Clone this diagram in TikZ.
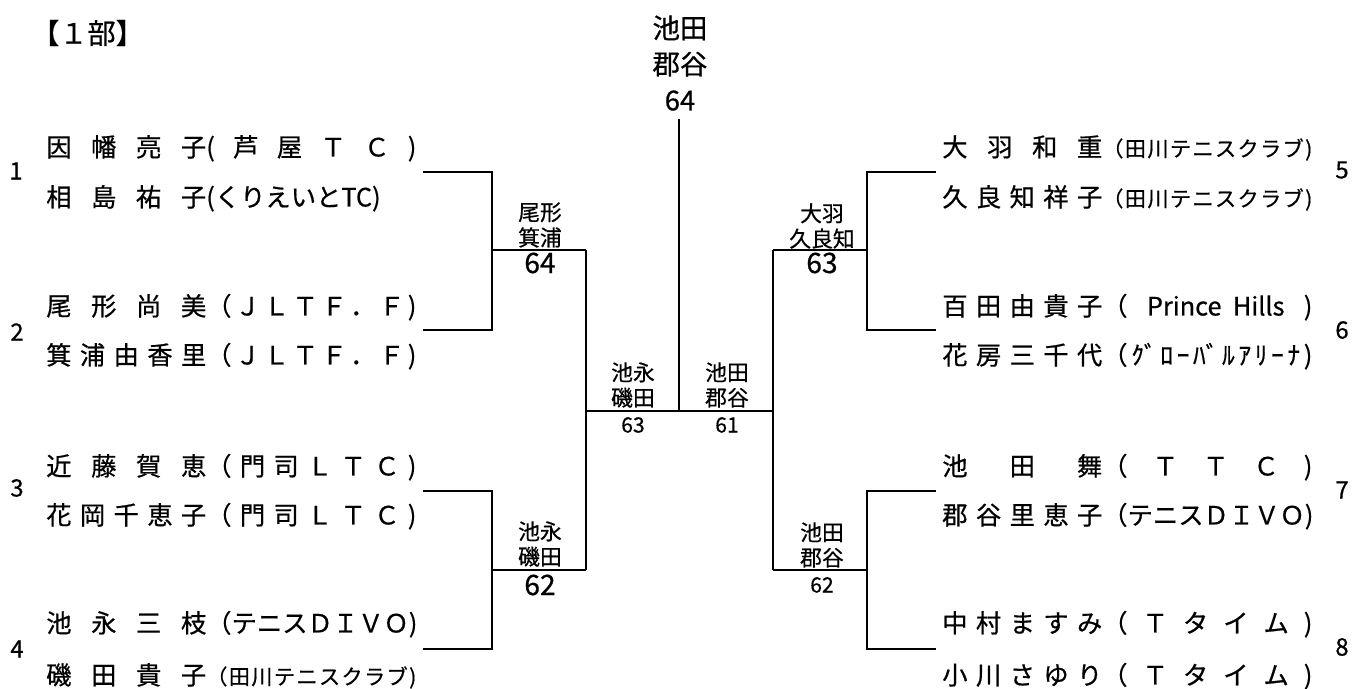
\documentclass[tikz,border=0pt]{standalone}
\usepackage{fontspec}
\setmainfont{Noto Sans CJK JP}[FakeBold=0.6]

\makeatletter
% spread the letters of a name evenly over a fixed width
\newcommand\kinto[2]{\makebox[#1][s]{\let\kintosep\relax
  \@tfor\kintoch:=#2\do{\kintosep\kintoch\let\kintosep\hfill}}}
\makeatother
\newcommand\namew{4cm}
\newcommand\clubw{5.25cm}
\newcommand\pair[2]{\kinto{\namew}{#1}\kinto{\clubw}{#2}}
\newcommand\smallclub[1]{{\fontsize{15}{15}\selectfont\kinto{\clubw}{#1}}}

\begin{document}
\begin{tikzpicture}[x=0.025cm, y=-0.025cm,
    player/.style={anchor=west, inner sep=0pt, text height=13.5pt, text depth=0pt, font=\fontsize{18}{18}\selectfont},
    seed/.style={inner sep=0pt, font=\fontsize{17}{17}\selectfont},
    winner/.style={inner sep=0pt, align=center, font=\fontsize{15.5}{18}\selectfont},
    bigscore/.style={inner sep=0pt, font=\fontsize{20}{20}\selectfont},
    score/.style={inner sep=0pt, font=\fontsize{15}{15}\selectfont},
    bracket/.style={line width=1.3pt}]
    \useasboundingbox (0,0) rectangle (1354,689);

    \node [anchor=west, inner sep=0pt, font=\fontsize{20}{20}\selectfont] (title) at (31,33) {【１部】};

    % seeds
    \node [seed] (n1) at (16,171) {1};
    \node [seed] (n2) at (17,332) {2};
    \node [seed] (n3) at (17,488) {3};
    \node [seed] (n4) at (17,649) {4};
    \node [seed] (n5) at (1342,170) {5};
    \node [seed] (n6) at (1342,330) {6};
    \node [seed] (n7) at (1342,490) {7};
    \node [seed] (n8) at (1342,647) {8};

    % left half
    \node [player] (p1a) at (46,147) {\pair{因幡亮子}{(芦屋ＴＣ)}};
    \node [player] (p1b) at (46,197) {\kinto{\namew}{相島祐子}(くりえいとTC)};
    \node [player] (p2a) at (46,306) {\pair{尾形尚美}{（ＪＬＴＦ．Ｆ)}};
    \node [player] (p2b) at (46,355) {\pair{箕浦由香里}{（ＪＬＴＦ．Ｆ)}};
    \node [player] (p3a) at (46,466) {\pair{近藤賀恵}{（門司ＬＴＣ)}};
    \node [player] (p3b) at (46,515) {\pair{花岡千恵子}{（門司ＬＴＣ)}};
    \node [player] (p4a) at (46,623) {\pair{池永三枝}{（テニスＤＩＶＯ)}};
    \node [player] (p4b) at (46,675) {\kinto{\namew}{磯田貴子}\smallclub{（田川テニスクラブ)}};

    % right half
    \node [player] (p5a) at (942,147) {\kinto{\namew}{大羽和重}\smallclub{（田川テニスクラブ)}};
    \node [player] (p5b) at (942,197) {\kinto{\namew}{久良知祥子}\smallclub{（田川テニスクラブ)}};
    \node [player] (p6a) at (942,306) {\pair{百田由貴子}{{（}{Prince\ \ Hills}{)}}};
    \node [player] (p6b) at (942,355) {\pair{花房三千代}{（{ｸﾞ}ﾛｰ{ﾊﾞ}ﾙｱﾘｰﾅ)}};
    \node [player] (p7a) at (942,466) {\pair{池田舞}{（ＴＴＣ)}};
    \node [player] (p7b) at (942,515) {\pair{郡谷里恵子}{（テニスＤＩＶＯ)}};
    \node [player] (p8a) at (942,623) {\pair{中村ますみ}{（Ｔタイム)}};
    \node [player] (p8b) at (942,675) {\pair{小川さゆり}{（Ｔタイム)}};

    % bracket points
    \coordinate (e1) at (423,172);
    \coordinate (e2) at (423,330);
    \coordinate (e3) at (423,491);
    \coordinate (e4) at (423,649);
    \coordinate (e5) at (936,172);
    \coordinate (e6) at (936,330);
    \coordinate (e7) at (936,491);
    \coordinate (e8) at (936,649);
    \coordinate (jL1) at (492,250);
    \coordinate (jL2) at (492,570);
    \coordinate (jR1) at (867,250);
    \coordinate (jR2) at (867,570);
    \coordinate (kL1) at (586,250);
    \coordinate (kL2) at (586,570);
    \coordinate (kR1) at (773,250);
    \coordinate (kR2) at (773,570);
    \coordinate (fin) at (679,411);
    \coordinate (top) at (679,119);

    \draw [bracket] (e1) -| (jL1) |- (e2);
    \draw [bracket] (e3) -| (jL2) |- (e4);
    \draw [bracket] (e5) -| (jR1) |- (e6);
    \draw [bracket] (e7) -| (jR2) |- (e8);
    \draw [bracket] (jL1) -- (kL1);
    \draw [bracket] (jL2) -- (kL2);
    \draw [bracket] (jR1) -- (kR1);
    \draw [bracket] (jR2) -- (kR2);
    \draw [bracket] (kL1) |- (fin) -| (kR1);
    \draw [bracket] (kL2) |- (fin) -| (kR2);
    \draw [bracket] (fin) -- (top);

    % winners and scores
    \node [winner] (wL1) at (540,225) {尾形\\箕浦};
    \node [bigscore] (scL1) at (540,263) {64};
    \node [winner] (wL2) at (540,544) {池永\\磯田};
    \node [bigscore] (scL2) at (540,585) {62};
    \node [winner] (wR1) at (822,226) {大羽\\久良知};
    \node [bigscore] (scR1) at (822,263) {63};
    \node [winner] (wR2) at (822,545) {池田\\郡谷};
    \node [score] (scR2) at (822,585) {62};
    \node [winner] (wC1) at (633,385) {池永\\磯田};
    \node [score] (scC1) at (633,425) {63};
    \node [winner] (wC2) at (727,385) {池田\\郡谷};
    \node [score] (scC2) at (727,425) {61};
    \node [inner sep=0pt, align=center, font=\fontsize{19.5}{25.6}\selectfont] (champ) at (680,63) {池田\\郡谷\\64};
\end{tikzpicture}
\end{document}
